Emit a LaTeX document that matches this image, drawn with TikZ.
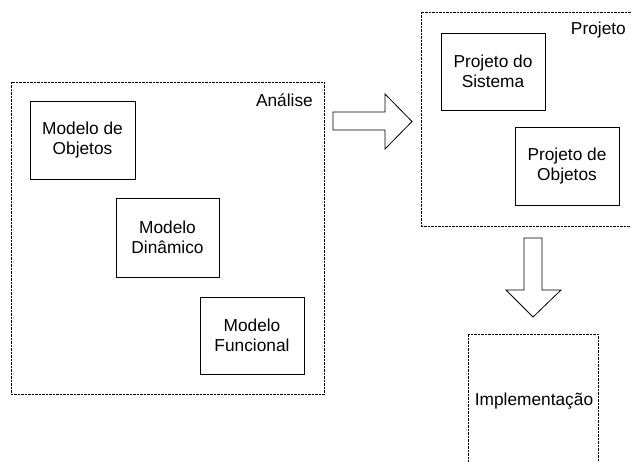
\documentclass[tikz,border=0pt]{standalone}
\usepackage{fontspec}
\setmainfont{Liberation Sans}
\begin{document}
\begin{tikzpicture}[x=1pt,y=-1pt,
  phase/.style={draw=black,line width=0.8pt,dash pattern=on 2.5pt off 1pt},
  model/.style={draw=black,line width=0.9pt,align=center,inner sep=0pt,
    font=\fontsize{17.3}{19.5}\selectfont},
  label/.style={font=\fontsize{17.3}{19.5}\selectfont,inner sep=0pt},
  flow/.style={draw=black,line width=0.8pt,fill=white,line join=miter}]
\useasboundingbox (0,0) rectangle (631,462);
\clip (0,0) rectangle (631,462);

% phase frames
\draw[phase] (11,82) rectangle (324,394);
\draw[phase] (421,12) rectangle (660,226);
\draw[phase] (468,334) rectangle (598,490);

% phase titles
\node[label,anchor=east] (analise) at (313,100) {Análise};
\node[label,anchor=east] (projeto) at (626,30) {Projeto};
\node[label] (impl) at (534,401) {Implementação};

% models of the analysis phase
\node[model,minimum width=105,minimum height=78] (mo) at (82.5,140) {Modelo de\\Objetos};
\node[model,minimum width=103,minimum height=79] (md) at (167.5,237.5) {Modelo\\Dinâmico};
\node[model,minimum width=104,minimum height=77] (mf) at (252,335.5) {Modelo\\Funcional};

% design activities
\node[model,minimum width=104,minimum height=77] (ps) at (493,71.5) {Projeto do\\Sistema};
\node[model,minimum width=104,minimum height=78] (po) at (567,166) {Projeto de\\Objetos};

% block arrows between phases
\draw[flow] (333,112) -- (385,112) -- (385,94) -- (412,121.5) -- (385,149) -- (385,130) -- (333,130) -- cycle;
\draw[flow] (524,238) -- (542,238) -- (542,290) -- (561,290) -- (533,317) -- (506,290) -- (524,290) -- cycle;
\end{tikzpicture}
\end{document}
